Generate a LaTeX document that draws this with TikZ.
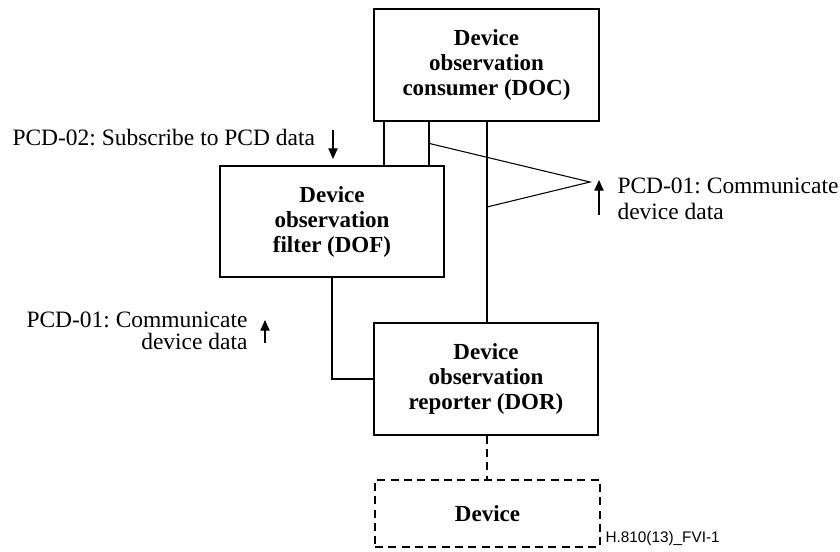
\documentclass[tikz,border=0pt]{standalone}
\usepackage{fontspec}
\setmainfont{Liberation Serif}
\setsansfont{Liberation Sans}
\usetikzlibrary{arrows.meta}
\frenchspacing
\begin{document}
\begin{tikzpicture}[x=0.75pt,y=-0.75pt,
  line width=0.8pt,
  boxstyle/.style={draw, rectangle, inner sep=0pt, align=center,
    font=\fontsize{17.25pt}{18.75pt}\selectfont\bfseries},
  lbl/.style={inner sep=0pt, font=\fontsize{17.6pt}{19pt}\selectfont},
  arr/.style={-{Triangle[width=7pt,length=8pt]}, line width=0.8pt}]
\frenchspacing
\useasboundingbox (0,0) rectangle (840,551);
% boxes
\node[boxstyle, minimum width=225*0.75pt, minimum height=112*0.75pt] (doc) at (486.5,65) {Device\\observation\\consumer (DOC)};
\node[boxstyle, minimum width=224*0.75pt, minimum height=111*0.75pt] (dof) at (332,221.5) {Device\\observation\\filter (DOF)};
\node[boxstyle, minimum width=224*0.75pt, minimum height=112*0.75pt] (dor) at (486,379) {Device\\observation\\reporter (DOR)};
\node[boxstyle, dashed, dash pattern=on 6pt off 4pt, minimum width=225*0.75pt, minimum height=67*0.75pt] (dev) at (487.5,513.5) {Device};
\node[draw, rectangle, inner sep=0pt, minimum width=45*0.75pt, minimum height=45*0.75pt] (sb) at (406.5,143.5) {};
% connectors
\coordinate (vtop) at (487,121);
\coordinate (vbot) at (487,323);
\coordinate (apex) at (590,182);
\coordinate (vj) at (487,207);
\draw (vtop) -- (vbot);
\draw (sb.east) -- (apex) -- (vj);
\draw (dof.south) |- (dor.west);
\draw[dashed, dash pattern=on 6pt off 4pt] (dor.south -| 487,0) -- (dev.north -| 487,0);
% labels
\node[lbl, anchor=base west] (l02) at (12,145) {PCD-02: Subscribe to PCD data};
\coordinate (a02s) at (333,130);
\coordinate (a02e) at (333,159);
\draw[arr] (a02s) -- (a02e);
\node[lbl, anchor=base west, align=left, font=\fontsize{17.6pt}{19.5pt}\selectfont] (r1) at (617,219) {PCD-01: Communicate\\device data};
\coordinate (ars) at (599,215);
\coordinate (are) at (599,180);
\draw[arr] (ars) -- (are);
\node[lbl, anchor=base east, align=right, font=\fontsize{17.6pt}{16.5pt}\selectfont] (l1) at (248,349) {PCD-01: Communicate\\device data};
\coordinate (als) at (265,343);
\coordinate (ale) at (265,320);
\draw[arr] (als) -- (ale);
\node[inner sep=0pt, anchor=base west, font=\sffamily\fontsize{11.5pt}{13pt}\selectfont] (code) at (605,542) {H.810(13)\_FVI-1};
\end{tikzpicture}
\end{document}
